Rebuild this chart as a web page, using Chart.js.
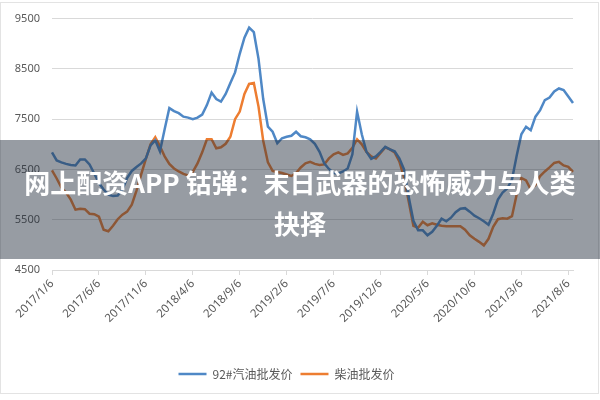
<!DOCTYPE html>
<html>
<head>
<meta charset="utf-8">
<script src="https://cdn.jsdelivr.net/npm/chart.js@4.4.1/dist/chart.umd.min.js"></script>
<style>
  body { margin: 0; background: #fff; }
  #wrap { position: relative; width: 600px; height: 400px; overflow: hidden; }
  #frame { position: absolute; left: 0; top: 2px; width: 597px; height: 390px; border: 1px solid #e3e3e3; pointer-events: none; }
  #band { position: absolute; left: 0; top: 140px; width: 600px; height: 119px;
          background: rgba(35, 45, 60, 0.47); color: #fff; text-align: center;
          font-family: "Noto Sans CJK SC", "Noto Sans", sans-serif; font-weight: bold;
          font-size: 26px; line-height: 41px; padding-top: 21px; box-sizing: border-box; white-space: nowrap; }
</style>
</head>
<body>
<div id="wrap">
  <canvas id="chart1" width="600" height="400"></canvas>
  <div id="frame"></div>
  <div id="band">网上配资APP 钴弹：末日武器的恐怖威力与人类<br>抉择</div>
</div>
<script>
// 日期：每月6日和21日，2017/1/6 到 2021/8/21
var fechas = [];
for (var a = 2017; a <= 2021; a++) {
  for (var m = 1; m <= 12; m++) {
    if (a == 2021 && m > 8) break;
    fechas.push(a + "/" + m + "/6");
    fechas.push(a + "/" + m + "/21");
  }
}

var gasolina92 = [
  6840, 6680, 6640, 6610, 6590, 6580, 6700, 6700, 6600, 6420,
  6230, 6100, 6000, 5970, 5980, 6100, 6330, 6470, 6550, 6620,
  6720, 6980, 7080, 6860, 7300, 7720, 7660, 7620, 7550, 7530,
  7500, 7530, 7590, 7780, 8030, 7900, 7850, 8000, 8220, 8430,
  8800, 9120, 9320, 9230, 8700, 7900, 7350, 7250, 7020, 7120,
  7150, 7170, 7250, 7160, 7140, 7100, 7010, 6850, 6620, 6510,
  6430, 6420, 6460, 6520, 6800, 7650, 7200, 6850, 6710, 6760,
  6850, 6950, 6900, 6860, 6720, 6500, 5950, 5480, 5290, 5290,
  5190, 5260, 5380, 5520, 5470, 5540, 5650, 5720, 5730, 5660,
  5580, 5530, 5470, 5400, 5620, 5900, 6040, 6120, 6300, 6770,
  7200, 7350, 7280, 7550, 7680, 7880, 7930, 8050, 8110, 8080,
  7950, 7820
];

var diesel = [
  6480, 6320, 6140, 6040, 5900, 5700, 5720, 5710, 5620, 5610,
  5560, 5300, 5270, 5380, 5510, 5600, 5660, 5800, 6080, 6400,
  6710, 7000, 7140, 6960, 6760, 6610, 6520, 6460, 6410, 6380,
  6450, 6620, 6840, 7100, 7100, 6920, 6940, 7010, 7150, 7500,
  7650, 8000, 8200, 8220, 7750, 7070, 6640, 6470, 6450, 6430,
  6400, 6370, 6430, 6540, 6620, 6650, 6610, 6590, 6600, 6720,
  6800, 6840, 6790, 6820, 6930, 7100, 7000, 6850, 6760, 6720,
  6830, 6940, 6900, 6840, 6660, 6340, 5860, 5380, 5340, 5460,
  5390, 5430, 5400, 5380, 5370, 5370, 5370, 5370, 5300, 5190,
  5120, 5060, 4990, 5120, 5360, 5510, 5530, 5520, 5570, 6000,
  6330, 6280, 6100, 6190, 6370, 6460, 6540, 6630, 6650, 6580,
  6550, 6450
];

var nombres = ["92#汽油批发价", "柴油批发价"];
var colores = ["#4f88c6", "#ed7d31"];

var gris = "#d9d9d9";
var texto = "#595959";

var datos = {
  type: "line",
  data: {
    labels: fechas,
    datasets: [{
      label: nombres[0],
      data: gasolina92,
      borderColor: colores[0],
      backgroundColor: colores[0],
      borderWidth: 2.5,
      pointRadius: 0,
      tension: 0
    }, {
      label: nombres[1],
      data: diesel,
      borderColor: colores[1],
      backgroundColor: colores[1],
      borderWidth: 2.5,
      pointRadius: 0,
      tension: 0
    }]
  },
  options: {
    responsive: false,
    animation: false,
    layout: { padding: { top: 18, right: 27, bottom: 10, left: 0 } },
    plugins: {
      tooltip: { enabled: false },
      legend: {
        position: "bottom",
        labels: {
          usePointStyle: true,
          pointStyle: "line",
          pointStyleWidth: 28,
          padding: 8,
          color: texto,
          font: { family: "'Noto Sans CJK SC', sans-serif", size: 12 }
        }
      }
    },
    scales: {
      x: {
        afterFit: function (s) { s.height = 90; },
        border: { display: true, color: gris },
        grid: { drawOnChartArea: false, tickLength: 5, color: gris },
        ticks: {
          autoSkip: false,
          maxRotation: 45,
          minRotation: 45,
          padding: 2,
          color: texto,
          font: { family: "'Noto Sans', sans-serif", size: 11.5 },
          callback: function (v, i) { return i % 10 == 0 ? fechas[i] : null; }
        }
      },
      y: {
        min: 4500,
        max: 9500,
        afterFit: function (s) { s.width = 52; },
        border: { display: false },
        grid: { color: gris, drawTicks: false },
        ticks: {
          stepSize: 1000,
          padding: 12,
          color: texto,
          font: { family: "'Noto Sans', sans-serif", size: 11 },
          callback: function (v) { return String(v); }
        }
      }
    }
  }
};

var canvas = document.getElementById("chart1").getContext("2d");
window.linea = new Chart(canvas, datos);
</script>
</body>
</html>
